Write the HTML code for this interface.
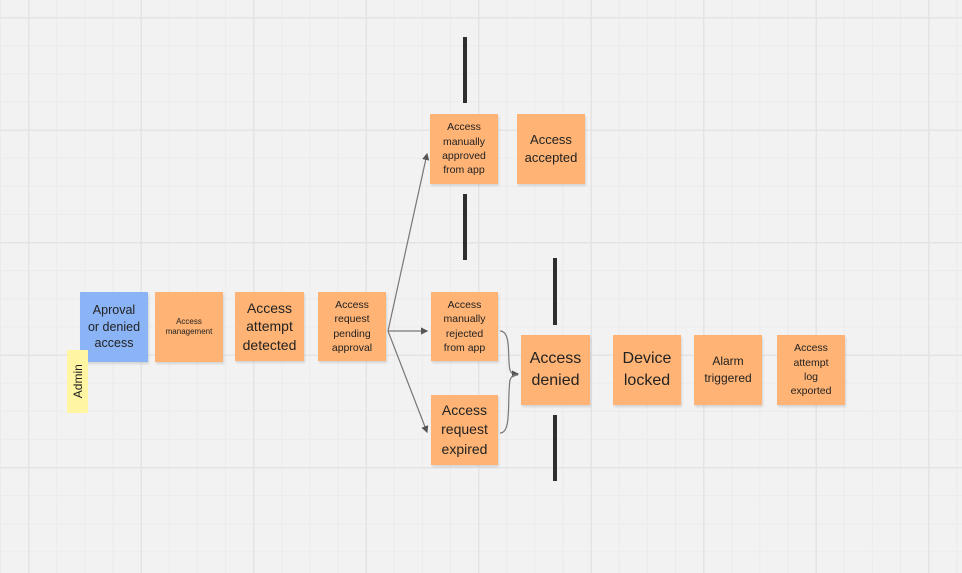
<!DOCTYPE html>
<html><head><style>
body{margin:0;width:962px;height:573px;overflow:hidden;background:#f2f2f2;font-family:"Liberation Sans","DejaVu Sans",sans-serif;}
.g{position:absolute;left:0;top:0;width:962px;height:573px;
background-image:
linear-gradient(to right,#e4e4e4 1.5px,transparent 1.5px),
linear-gradient(to bottom,#e4e4e4 1.5px,transparent 1.5px),
linear-gradient(to right,#ebebeb 1px,transparent 1px),
linear-gradient(to bottom,#ebebeb 1px,transparent 1px);
background-size:112.5px 112.5px,112.5px 112.5px,28.125px 28.125px,28.125px 28.125px;
background-position:28px 17px,28px 17px,0px 17px,0px 17px;}
.n{position:absolute;background:#ffb374;color:#222;display:flex;align-items:center;justify-content:center;text-align:center;box-shadow:1px 2px 2px rgba(0,0,0,.12);line-height:1.2;}
.b{position:absolute;background:#2e2e2e;}
</style></head><body>
<div class="g"></div>
<div class="n" style="left:80px;top:292px;width:68px;height:70px;background:#8ab4f5;font-size:12.5px;line-height:1.32">Aproval<br>or denied<br>access</div>
<div class="n" style="left:67px;top:350px;width:21px;height:63px;background:#fff5a3;box-shadow:none;"><span style="transform:rotate(-90deg);font-size:12px;display:inline-block">Admin</span></div>
<div class="n" style="left:155px;top:292px;width:68px;height:70px;font-size:8px">Access<br>management</div>
<div class="n" style="left:235px;top:292px;width:69px;height:69px;font-size:14px;line-height:1.3">Access<br>attempt<br>detected</div>
<div class="n" style="left:318px;top:292px;width:68px;height:69px;font-size:10.5px;line-height:1.38">Access<br>request<br>pending<br>approval</div>
<div class="n" style="left:430px;top:114px;width:68px;height:70px;font-size:10.5px;line-height:1.38">Access<br>manually<br>approved<br>from app</div>
<div class="n" style="left:517px;top:114px;width:68px;height:70px;font-size:13px;line-height:1.35">Access<br>accepted</div>
<div class="n" style="left:431px;top:292px;width:67px;height:69px;font-size:10.5px;line-height:1.38">Access<br>manually<br>rejected<br>from app</div>
<div class="n" style="left:431px;top:395px;width:67px;height:70px;font-size:14px;line-height:1.38">Access<br>request<br>expired</div>
<div class="n" style="left:521px;top:335px;width:69px;height:70px;font-size:16px;line-height:1.4">Access<br>denied</div>
<div class="n" style="left:613px;top:335px;width:68px;height:70px;font-size:16px;line-height:1.4">Device<br>locked</div>
<div class="n" style="left:694px;top:335px;width:68px;height:70px;font-size:12px;line-height:1.4">Alarm<br>triggered</div>
<div class="n" style="left:777px;top:335px;width:68px;height:70px;font-size:10.5px;line-height:1.38">Access<br>attempt<br>log<br>exported</div>
<div class="b" style="left:463px;top:37px;width:4px;height:66px"></div>
<div class="b" style="left:463px;top:194px;width:4px;height:66px"></div>
<div class="b" style="left:553px;top:258px;width:4px;height:67px"></div>
<div class="b" style="left:553px;top:415px;width:4px;height:66px"></div>
<svg style="position:absolute;left:0;top:0" width="962" height="573">
<defs><marker id="a" markerWidth="6" markerHeight="6" refX="5" refY="3" orient="auto"><path d="M0,0L6,3L0,6z" fill="#555"/></marker></defs>
<g stroke="#777" stroke-width="1.2" fill="none">
<path d="M388,331 L427,154" marker-end="url(#a)"/>
<path d="M388,331 L427,331" marker-end="url(#a)"/>
<path d="M388,331 L427,432" marker-end="url(#a)"/>
<path d="M500,331 C512,331 507,360 510,370 C512,375 514,374 518,374" marker-end="url(#a)"/>
<path d="M500,433 C512,433 507,400 510,380 C512,375 514,375 518,375"/>
</g></svg>
</body></html>
